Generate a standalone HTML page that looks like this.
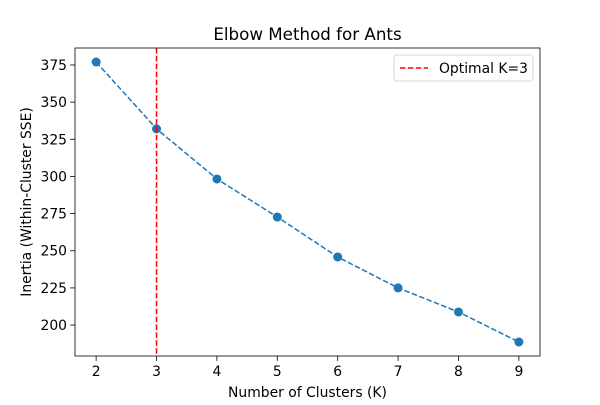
<!DOCTYPE html>
<html><head><meta charset="utf-8"><style>
body{margin:0;background:#fff;}
svg text{font-family:"DejaVu Sans","Liberation Sans",sans-serif;fill:#000;}
</style></head><body>
<svg id="chart" width="600" height="400" viewBox="0 0 600 400">
<rect width="600" height="400" fill="#fff"/>
<text x="307.5" y="40" font-size="16.7" text-anchor="middle">Elbow Method for Ants</text>
<g id="plot"></g>
<rect x="75" y="48" width="465" height="308" fill="none" stroke="#000" stroke-width="0.8"/>
<text x="307.5" y="397" font-size="13.9" text-anchor="middle">Number of Clusters (K)</text>
<text transform="translate(31,202) rotate(-90)" font-size="13.9" text-anchor="middle">Inertia (Within-Cluster SSE)</text>
<g>
<rect x="394" y="55" width="139" height="26" rx="3" fill="#fff" stroke="#ccc" stroke-width="0.8"/>
<line x1="400" y1="68" x2="428" y2="68" stroke="red" stroke-width="1.5" stroke-dasharray="5.5,2.4"/>
<text x="439" y="73" font-size="13.9">Optimal K=3</text>
</g>
</svg>
<script>
const ks = [2,3,4,5,6,7,8,9];
const inertia = [377,332,298.3,272.7,245.8,225,208.8,188.6];
const xTicks = [2,3,4,5,6,7,8,9];
const yTicks = [200,225,250,275,300,325,350,375];
const optimalK = 3;
const L=75,R=540,T=48,B=356;
const xmin=Math.min(...ks),xmax=Math.max(...ks),xm=(xmax-xmin)*0.05;
const ymin=Math.min(...inertia),ymax=Math.max(...inertia),ym=(ymax-ymin)*0.05;
const xs=v=>L+(v-(xmin-xm))/((xmax+xm)-(xmin-xm))*(R-L);
const ys=v=>B-(v-(ymin-ym))/((ymax+ym)-(ymin-ym))*(B-T);
const NS="http://www.w3.org/2000/svg";
const g=document.getElementById('plot');
function mk(t,a){const e=document.createElementNS(NS,t);for(const k in a)e.setAttribute(k,a[k]);g.appendChild(e);return e;}
xTicks.forEach(v=>{
 const l=mk('line',{x1:xs(v),x2:xs(v),y1:B,y2:B+4.9,stroke:'#000','stroke-width':0.8});
 
 
 const t=mk('text',{x:xs(v),y:B+20,'font-size':13.9,'text-anchor':'middle'});t.textContent=v;
 
 
});
yTicks.forEach(v=>{
 const l=mk('line',{x1:L-4.9,x2:L,y1:ys(v),y2:ys(v),stroke:'#000','stroke-width':0.8});
 
 
 const t=mk('text',{x:L-8,y:ys(v)+5,'font-size':13.9,'text-anchor':'end'});t.textContent=v;
 
 
});
const p=mk('polyline',{points:ks.map((k,i)=>xs(k)+','+ys(inertia[i])).join(' '),fill:'none',stroke:'#1f77b4','stroke-width':1.5,'stroke-dasharray':'5.5,2.4'});


ks.forEach((k,i)=>{
 const c=mk('circle',{cx:xs(k),cy:ys(inertia[i]),r:4.5,fill:'#1f77b4'});
 
 
});
const v=mk('line',{x1:xs(optimalK),x2:xs(optimalK),y1:T,y2:B,stroke:'red','stroke-width':1.5,'stroke-dasharray':'5.5,2.4'});


</script>
</body></html>
